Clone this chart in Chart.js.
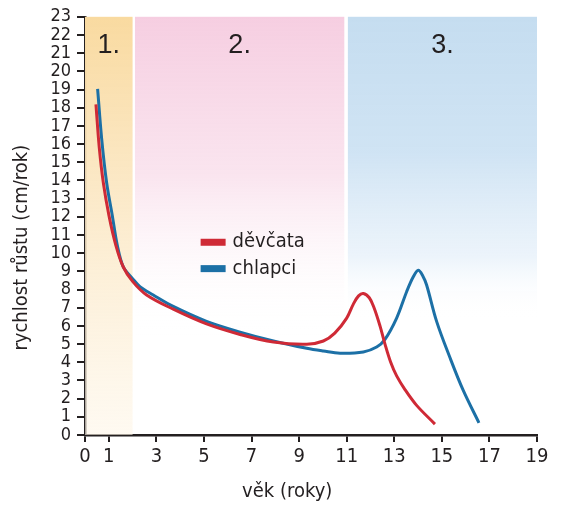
<!DOCTYPE html>
<html>
<head>
<meta charset="utf-8">
<script src="https://cdn.jsdelivr.net/npm/chart.js@4/dist/chart.umd.min.js"></script>
<style>
  html, body { margin: 0; padding: 0; background: #ffffff; }
  #wrap { width: 572px; height: 517px; position: relative; }
</style>
</head>
<body>
<div id="wrap"><canvas id="c" width="572" height="517"></canvas></div>
<script>
// ---- data ----
const xTickValues = [0, 1, 3, 5, 7, 9, 11, 13, 15, 17, 19];
const seriesNames = ['děvčata', 'chlapci'];
const girlsAge  = [0.46, 0.6, 0.77, 1.01, 1.30, 1.61, 2.0, 2.59, 3.71, 5.11, 6.52, 7.92, 9.32, 10.02, 10.5, 11.0, 11.28, 11.5, 11.70, 11.95, 12.15, 12.40, 12.61, 12.85, 13.1, 13.45, 13.94, 14.71];
const girlsRate = [18.18, 15.8, 13.87, 12.05, 10.42, 9.24, 8.45, 7.70, 6.92, 6.11, 5.53, 5.11, 4.99, 5.17, 5.6, 6.43, 7.2, 7.65, 7.78, 7.55, 7.0, 6.0, 5.0, 4.0, 3.25, 2.5, 1.63, 0.60];
const boysAge   = [0.53, 0.7, 0.91, 1.15, 1.36, 1.61, 2.0, 2.31, 2.87, 3.71, 5.11, 6.52, 7.92, 9.32, 10.02, 10.72, 11.70, 12.26, 12.61, 13.10, 13.52, 13.80, 14.01, 14.2, 14.36, 14.78, 15.34, 15.90, 16.56];
const boysRate  = [19.03, 16.3, 13.87, 12.05, 10.42, 9.24, 8.6, 8.16, 7.70, 7.07, 6.25, 5.66, 5.17, 4.77, 4.62, 4.50, 4.57, 4.84, 5.26, 6.43, 7.88, 8.70, 9.06, 8.75, 8.25, 6.25, 4.26, 2.45, 0.67];
const bandStart  = [0, 2.1, 11.05];
const bandEnd    = [2.0, 10.9, 19];
const bandLabels = ['1.', '2.', '3.'];

// ---- styles ----
const NARROW = "'Liberation Sans Narrow', 'DejaVu Sans Condensed', 'Liberation Sans', sans-serif";
const REG = "'Liberation Sans', 'Noto Sans', sans-serif";
const RED = '#cf2a36';
const BLUE = '#1c70a6';
const bandColors = [
  { stops: [[0, 'rgba(249,218,160,1)'], [0.4, 'rgba(251,230,192,0.9)'], [1, 'rgba(254,246,232,0.6)']], fadeTo: 0 },
  { stops: [[0, 'rgba(246,206,225,1)'], [0.5, 'rgba(249,224,236,0.85)'], [1, 'rgba(255,255,255,0)']], fadeTo: 5.5 },
  { stops: [[0, 'rgba(197,221,240,1)'], [0.45, 'rgba(205,226,243,0.95)'], [0.8, 'rgba(228,239,249,0.7)'], [1, 'rgba(255,255,255,0)']], fadeTo: 6.5 }
];

function pts(xs, ys) { return xs.map((x, i) => ({ x: x, y: ys[i] })); }

const bandsPlugin = {
  id: 'bands',
  beforeDatasetsDraw(chart) {
    const ctx = chart.ctx, xs = chart.scales.x, ys = chart.scales.y;
    const top = ys.getPixelForValue(23);
    ctx.save();
    for (let i = 0; i < bandStart.length; i++) {
      const x0 = xs.getPixelForValue(bandStart[i]);
      const x1 = xs.getPixelForValue(bandEnd[i]);
      const c = bandColors[i];
      const bottom = ys.getPixelForValue(c.fadeTo);
      const g = ctx.createLinearGradient(0, top, 0, bottom);
      c.stops.forEach(s => g.addColorStop(s[0], s[1]));
      ctx.fillStyle = g;
      ctx.fillRect(x0, top, x1 - x0, bottom - top);
      ctx.fillStyle = '#231f20';
      ctx.font = '27px ' + REG;
      ctx.textAlign = 'center';
      ctx.textBaseline = 'middle';
      ctx.fillText(bandLabels[i], xs.getPixelForValue((bandStart[i] + bandEnd[i]) / 2), ys.getPixelForValue(21.4));
    }
    ctx.restore();
  },
  afterDraw(chart) {
    const ctx = chart.ctx, xs = chart.scales.x, ys = chart.scales.y;
    ctx.save();
    // legend
    const colors = [RED, BLUE];
    const lx = xs.getPixelForValue(4.86);
    for (let i = 0; i < seriesNames.length; i++) {
      const y = ys.getPixelForValue(10.6 - i * 1.45);
      ctx.fillStyle = colors[i];
      ctx.fillRect(lx, y - 3.5, 25, 7);
      ctx.fillStyle = '#231f20';
      ctx.font = '20px ' + NARROW;
      ctx.textAlign = 'left';
      ctx.textBaseline = 'middle';
      ctx.fillText(seriesNames[i], lx + 32, y);
    }
    // axis titles
    ctx.fillStyle = '#231f20';
    ctx.font = '20px ' + NARROW;
    ctx.textAlign = 'center';
    ctx.textBaseline = 'middle';
    ctx.fillText('věk (roky)', xs.getPixelForValue(8.5), 492);
    ctx.translate(22, ys.getPixelForValue(10.3));
    ctx.rotate(-Math.PI / 2);
    ctx.fillText('rychlost růstu (cm/rok)', 0, 0);
    ctx.restore();
  }
};

new Chart(document.getElementById('c'), {
  type: 'line',
  data: {
    datasets: [
      { label: seriesNames[0], data: pts(girlsAge, girlsRate), borderColor: RED, borderWidth: 3, pointRadius: 0, tension: 0.35, fill: false },
      { label: seriesNames[1], data: pts(boysAge, boysRate), borderColor: BLUE, borderWidth: 3, pointRadius: 0, tension: 0.35, fill: false }
    ]
  },
  options: {
    responsive: false,
    animation: false,
    events: [],
    layout: { padding: { top: 12, right: 35, left: 0, bottom: 0 } },
    plugins: { legend: { display: false }, tooltip: { enabled: false } },
    scales: {
      x: {
        type: 'linear', min: 0, max: 19,
        afterBuildTicks(scale) { scale.ticks = xTickValues.map(v => ({ value: v })); },
        afterFit(scale) { scale.height = 82; },
        ticks: { color: '#231f20', font: { family: NARROW, size: 20 }, padding: 3, maxRotation: 0, autoSkip: false },
        grid: { drawOnChartArea: false, drawTicks: true, tickLength: 7, color: '#231f20', lineWidth: 2 },
        border: { color: '#231f20', width: 2.5 }
      },
      y: {
        min: 0, max: 23,
        afterFit(scale) { scale.width = 85; },
        ticks: { stepSize: 1, color: '#231f20', font: { family: NARROW, size: 18 }, padding: 6, autoSkip: false },
        grid: { drawOnChartArea: false, drawTicks: true, tickLength: 8, color: '#231f20', lineWidth: 2 },
        border: { color: '#231f20', width: 2.5 }
      }
    }
  },
  plugins: [bandsPlugin]
});
</script>
</body>
</html>
